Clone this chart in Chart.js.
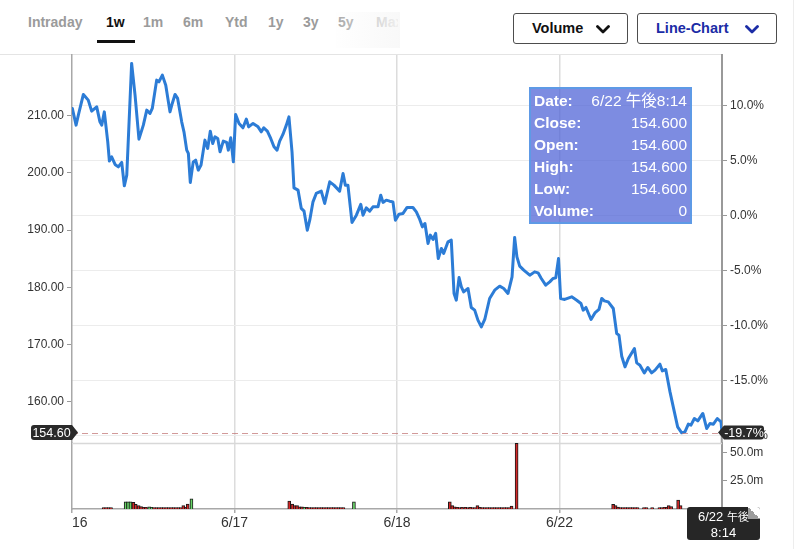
<!DOCTYPE html>
<html lang="ja"><head><meta charset="utf-8">
<script src="https://cdn.jsdelivr.net/npm/chart.js@4.4.1/dist/chart.umd.min.js"></script>
<style>
html,body{margin:0;padding:0;background:#fff;}
body{width:800px;height:549px;position:relative;overflow:hidden;font-family:"Liberation Sans",Arial,sans-serif;}
#tabs{position:absolute;left:0;top:0;width:398px;height:50px;overflow:hidden;}
.tab{position:absolute;top:13px;line-height:18px;font-size:14px;font-weight:700;color:#9b9b9b;white-space:nowrap;}
.tab.on{color:#111;}
#uline{position:absolute;left:97px;top:40px;width:38px;height:2.5px;background:#111;}
#fade{position:absolute;left:336px;top:12px;width:64px;height:36px;background:linear-gradient(to right,rgba(250,250,250,0.15),rgba(248,248,248,0.93));}
.btn{position:absolute;top:13px;height:31px;box-sizing:border-box;border:1px solid #4d4d4d;border-radius:3px;font-size:14.5px;font-weight:700;line-height:29px;padding-left:18px;white-space:nowrap;}
.chev{position:absolute;top:11px;}
#sep{position:absolute;left:0;top:54px;width:722px;height:1px;background:#e4e4e4;}
#edge{position:absolute;left:793px;top:0;width:1px;height:549px;background:#ededed;}
canvas{position:absolute;left:0;}
#c1{top:0;} #c2{top:423px;}
#tip{position:absolute;left:529px;top:87px;width:163px;height:137px;box-sizing:border-box;border:2px solid #5e9ae6;background:rgba(80,100,215,0.74);padding:1px 3px 0 3px;color:#fff;}
.row{display:flex;justify-content:space-between;height:22.1px;line-height:22px;white-space:nowrap;}
.row b{font-weight:700;font-size:15.5px;}
.row span{font-size:15.5px;font-family:"Liberation Sans","Noto Sans CJK JP",sans-serif;}
#tbox{position:absolute;left:687px;top:507px;width:73px;height:33px;background:#262626;border-radius:3px;color:#fff;font-size:13px;line-height:16px;text-align:center;padding-top:1px;box-sizing:border-box;white-space:nowrap;font-family:"Liberation Sans","Noto Sans CJK JP",sans-serif;}
#tbox .cjk{font-size:11px;font-family:"Noto Sans CJK JP",sans-serif;}
#fold{position:absolute;right:0;top:0;width:12px;height:12px;background:linear-gradient(to bottom left,#fff 50%,#9c9c9c 50%);border-top-right-radius:3px;}
</style></head>
<body>
<div id="tabs"></div>
<div id="uline"></div>
<div id="fade"></div>
<div class="btn" id="b1" style="left:513px;width:115px;color:#111;">Volume
  <svg class="chev" style="left:82px" width="14" height="9"><polyline points="1.5,1.5 7,7 12.5,1.5" fill="none" stroke="#111" stroke-width="2.8" stroke-linejoin="round" stroke-linecap="round"/></svg></div>
<div class="btn" id="b2" style="left:637px;width:140px;color:#1b2ca6;">Line-Chart
  <svg class="chev" style="left:107px" width="14" height="9"><polyline points="1.5,1.5 7,7 12.5,1.5" fill="none" stroke="#1b2ca6" stroke-width="2.8" stroke-linejoin="round" stroke-linecap="round"/></svg></div>
<div id="sep"></div>
<div id="edge"></div>
<canvas id="c1" width="800" height="460"></canvas>
<canvas id="c2" width="800" height="126"></canvas>
<div id="tip"></div>
<div id="tbox">6/22 <span class="cjk">午後</span><br>8:14<div id="fold"></div></div>
<script>
// ---------- DATA ----------
const tabNames = ["Intraday","1w","1m","6m","Ytd","1y","3y","5y","Max"];
const activeTab = "1w";
const dayLabels = ["16","6/17","6/18","6/22",""];
const dayTicks = [0,1,2,3,4];
const priceTicks = [160,170,180,190,200,210];
const pctTicks = [-20,-15,-10,-5,0,5,10];
const volTicks = [25,50];
const prevClose = 192.53;
const lastPrice = 154.60;

// time position (days from start of 6/16) and price
const priceX = [
0.002,0.025,0.039,0.07,0.10,0.121,0.152,0.172,0.183,0.199,0.22,0.23,0.244,0.265,0.285,0.306,0.322,0.337,0.367,0.388,0.412,0.439,0.46,0.48,0.494,0.521,0.535,0.556,0.577,0.603,0.617,0.634,0.65,0.675,0.689,0.706,0.716,0.728,0.746,0.761,0.777,0.794,0.818,0.835,0.851,0.866,0.88,0.897,0.911,0.931,0.952,0.962,0.977,0.993,1.007,1.028,
1.052,1.073,1.087,1.114,1.145,1.165,1.18,1.202,1.223,1.243,1.262,1.278,1.298,1.319,1.335,1.354,1.366,1.391,1.411,1.428,1.448,1.463,1.483,1.503,1.534,1.555,1.586,1.612,1.647,1.668,1.682,1.698,1.723,1.75,1.777,1.791,1.811,1.832,1.852,1.883,1.9,1.914,1.934,1.955,1.975,1.99,2.012,2.037,
2.062,2.098,2.119,2.14,2.156,2.172,2.191,2.205,2.222,2.238,2.254,2.273,2.287,2.314,2.334,2.351,2.365,2.382,2.396,2.41,2.437,2.457,2.478,2.498,2.519,2.54,2.57,2.601,2.632,2.657,2.683,2.708,2.724,2.738,2.755,2.78,2.817,2.847,2.868,2.888,2.915,2.94,2.96,2.977,2.994,3.007,3.032,
3.075,3.106,3.132,3.146,3.163,3.194,3.218,3.243,3.26,3.276,3.30,3.331,3.352,3.366,3.383,3.403,3.424,3.461,3.475,3.495,3.522,3.543,3.567,3.588,3.618,3.633,3.654,3.68,3.70,3.727,3.752,3.772,3.793,3.809,3.83,3.851,3.882,3.906,3.926,3.947,3.971,3.994,4.0];
const priceY = [
211.26,208.34,210.09,213.71,212.71,210.79,211.54,208.92,208.34,210.66,205.42,202.05,202.80,201.47,201.05,201.82,197.73,199.60,219.13,213.58,205.89,208.34,210.96,210.38,211.26,216.21,215.91,217.08,215.33,210.66,212.13,213.71,213.01,208.92,207.17,203.97,203.39,198.32,201.92,202.22,200.47,201.35,205.72,204.27,207.29,205.14,206.29,206.01,203.67,205.54,205.31,203.97,206.12,201.92,210.21,208.64,
207.87,209.39,208.04,208.64,208.04,207.17,207.87,207.29,206.01,204.55,203.97,205.54,206.71,208.34,209.79,203.67,197.38,196.98,193.78,193.30,189.98,191.73,194.93,196.40,196.80,194.65,198.43,197.85,196.80,199.90,197.85,197.85,191.33,192.60,194.48,192.60,193.88,193.30,194.06,194.06,196.10,194.83,195.23,195.05,194.93,191.73,192.78,192.90,
193.95,193.95,193.18,191.85,190.56,191.15,187.66,189.11,188.36,189.41,185.03,186.78,185.91,187.94,188.23,178.92,177.74,181.71,180.07,179.20,179.79,176.47,176.00,174.25,173.08,174.37,178.04,179.49,180.19,179.79,178.92,181.82,188.71,185.31,183.69,182.99,182.12,182.69,182.52,181.54,180.37,180.94,181.54,181.64,185.03,178.04,177.87,
178.32,177.74,177.17,176.00,176.47,174.37,175.52,176.12,178.04,177.62,177.45,176.29,171.92,171.63,167.95,166.08,167.55,169.30,166.78,166.38,165.03,165.98,165.03,165.51,166.56,165.38,165.63,161.71,159.09,155.59,154.55,154.72,156.07,155.89,157.06,156.64,157.94,155.31,156.19,156.07,157.06,156.47,154.60];

// volume bars: time (days), volume (millions), up(1)/down(0)
const volX = [
0.195,0.21,0.225,0.24,0.33,0.345,0.36,0.378,0.392,0.41,0.425,0.44,0.455,0.475,0.49,0.505,0.52,0.535,0.55,0.565,0.58,0.595,0.61,0.625,0.64,0.655,0.67,0.685,0.70,0.712,0.735,
1.337,1.355,1.37,1.385,1.40,1.415,1.43,1.445,1.46,1.475,1.49,1.505,1.52,1.535,1.55,1.565,1.58,1.595,1.61,1.625,1.64,1.655,1.67,1.735,
2.325,2.34,2.355,2.37,2.385,2.40,2.42,2.435,2.45,2.465,2.48,2.495,2.51,2.525,2.54,2.555,2.57,2.585,2.60,2.615,2.63,2.645,2.66,2.675,2.69,2.705,2.736,
3.33,3.345,3.36,3.375,3.39,3.405,3.42,3.435,3.45,3.465,3.48,3.52,3.535,3.57,3.615,3.63,3.645,3.66,3.672,3.687,3.73,3.745];
const volM = [
1.2,1.2,1.2,1.2,6.3,6.3,6.5,6.0,4.2,3.0,2.2,1.6,1.6,2.0,1.6,1.2,1.2,1.2,1.2,1.2,1.2,1.2,1.2,1.2,1.2,1.2,1.2,3.0,1.5,4.5,9.0,
7.0,4.5,3.0,3.0,2.0,2.0,1.6,1.6,1.3,1.2,1.2,1.2,1.2,1.2,1.2,1.2,1.2,1.2,1.2,1.2,1.2,1.2,1.2,6.5,
6.5,3.0,2.0,1.6,1.3,1.6,1.6,1.3,1.6,1.3,1.3,3.0,1.6,1.3,1.2,1.2,1.2,1.2,1.2,1.2,1.2,1.2,1.2,1.2,1.2,2.5,58.5,
4.2,3.0,1.8,1.3,1.3,1.3,1.2,1.2,1.2,1.2,1.2,1.2,1.2,1.2,1.2,1.2,1.5,1.5,3.0,2.2,8.0,3.0];
const volUp = [
0,0,0,0,1,1,1,0,0,0,0,0,0,1,1,0,0,0,0,0,0,0,0,0,0,0,0,0,0,0,1,
0,0,0,0,0,0,1,0,0,0,0,0,0,0,0,0,0,0,0,0,0,0,0,1,
0,0,0,0,0,0,0,0,0,0,0,0,0,0,0,0,0,0,0,0,0,0,0,0,0,0,0,
0,0,0,0,0,0,0,0,0,0,0,0,0,0,0,0,0,0,0,0,0,0];

const tipLabels = ["Date:","Close:","Open:","High:","Low:","Volume:"];
const tipValues = ["6/22 午後8:14","154.600","154.600","154.600","154.600","0"];

// ---------- LAYOUT ----------
const tabLeft = [28,106,143,183,225,268,303,338,376];
const tabsEl = document.getElementById('tabs');
tabNames.forEach((t,i)=>{
  const d = document.createElement('div');
  d.className = 'tab' + (t===activeTab ? ' on' : '');
  d.style.left = tabLeft[i] + 'px';
  d.textContent = t;
  tabsEl.appendChild(d);
});
const tipEl = document.getElementById('tip');
tipLabels.forEach((l,i)=>{
  const r = document.createElement('div'); r.className='row';
  const b = document.createElement('b'); b.textContent = l;
  const s = document.createElement('span'); s.textContent = tipValues[i];
  r.appendChild(b); r.appendChild(s); tipEl.appendChild(r);
});

Chart.defaults.font.family = "'Liberation Sans', Arial, sans-serif";
Chart.defaults.color = '#333';

const PMIN = 154.0, PMAX = 220.6;
const pct = v => (v/prevClose - 1)*100;
const GRID = '#dcdcdc', AX = '#a8a8a8';

function tag(ctx, x0, x1, tip, y, h, text, side){
  const r = 3, t = y - h/2, b = y + h/2;
  ctx.beginPath();
  if (side === 'left') { // pointer on right
    ctx.moveTo(x0 + r, t); ctx.lineTo(x1, t); ctx.lineTo(tip, y); ctx.lineTo(x1, b);
    ctx.lineTo(x0 + r, b); ctx.arcTo(x0, b, x0, b - r, r); ctx.lineTo(x0, t + r); ctx.arcTo(x0, t, x0 + r, t, r);
  } else { // pointer on left
    ctx.moveTo(x0, t); ctx.lineTo(x1 - r, t); ctx.arcTo(x1, t, x1, t + r, r); ctx.lineTo(x1, b - r);
    ctx.arcTo(x1, b, x1 - r, b, r); ctx.lineTo(x0, b); ctx.lineTo(tip, y);
  }
  ctx.closePath();
  ctx.fillStyle = '#2a2a2a'; ctx.fill();
  ctx.fillStyle = '#fff'; ctx.font = "12.5px 'Liberation Sans', Arial, sans-serif";
  ctx.textAlign = 'center'; ctx.textBaseline = 'middle';
  ctx.fillText(text, (x0 + x1)/2, y + 0.5);
}

const priceMarker = {
  id: 'priceMarker',
  afterDatasetsDraw(chart){
    const {ctx, chartArea:a, scales} = chart;
    const y = Math.round(scales.y.getPixelForValue(lastPrice)) + 0.5;
    ctx.save();
    ctx.strokeStyle = 'rgba(195,120,120,0.75)'; ctx.lineWidth = 1; ctx.setLineDash([6,4]);
    ctx.beginPath(); ctx.moveTo(a.left, y); ctx.lineTo(a.right, y); ctx.stroke();
    ctx.restore();
  },
  afterDraw(chart){
    const {ctx, chartArea:a, scales} = chart;
    const y = scales.y.getPixelForValue(lastPrice);
    ctx.save();
    tag(ctx, a.left - 41, a.left, a.left + 6, y, 15, lastPrice.toFixed(2), 'left');
    tag(ctx, a.right + 2, a.right + 42, a.right - 4, y, 14, pct(lastPrice).toFixed(1) + '%', 'right');
    ctx.restore();
  }
};

new Chart(document.getElementById('c1'), {
  type: 'line',
  data: { datasets: [{
    data: priceX.map((x,i)=>({x, y: priceY[i]})),
    borderColor: '#2c7cd6', borderWidth: 3, pointRadius: 0, tension: 0,
    borderJoinStyle: 'round', borderCapStyle: 'round', yAxisID: 'y'
  }]},
  options: {
    responsive: false, animation: false, events: [],
    layout: { padding: { top: 55, bottom: 17, left: 0, right: 0 } },
    plugins: { legend: { display: false }, tooltip: { enabled: false } },
    scales: {
      x: { type: 'linear', min: 0, max: 4,
        afterBuildTicks: s => { s.ticks = dayTicks.map(v => ({value: v})); },
        ticks: { display: false },
        grid: { color: c => (c.tick && (c.tick.value === 0 || c.tick.value === 4)) ? 'rgba(0,0,0,0)' : GRID,
                tickColor: c => (c.tick && c.tick.value === 0) ? AX : (c.tick && c.tick.value === 4 ? '#999' : GRID),
                lineWidth: 1.5, tickWidth: c => (c.tick && c.tick.value === 4) ? 2 : 1.5, tickLength: 7, drawTicks: true },
        border: { display: false },
        afterFit: s => { s.height = 7; } },
      y: { position: 'left', min: PMIN, max: PMAX,
        afterBuildTicks: s => { s.ticks = priceTicks.map(v => ({value: v})); },
        ticks: { callback: v => Number(v).toFixed(2), color: '#333', font: { size: 12 }, padding: 3 },
        grid: { drawOnChartArea: false, tickLength: 5, tickColor: '#999', color: '#999' },
        border: { color: AX, width: 1.5 },
        afterFit: s => { s.width = 72; } },
      pct: { position: 'right', min: pct(PMIN), max: pct(PMAX),
        afterBuildTicks: s => { s.ticks = pctTicks.map(v => ({value: v})); },
        ticks: { callback: v => Number(v).toFixed(1) + '%', color: '#333', font: { size: 12 }, padding: 3 },
        grid: { color: '#ececec', lineWidth: 1, tickLength: 5, tickColor: '#999' },
        border: { color: '#999', width: 2 },
        afterFit: s => { s.width = 78; } }
    }
  },
  plugins: [priceMarker]
});

const volTop = {
  id: 'volTop',
  beforeDatasetsDraw(chart){
    const {ctx, chartArea:a} = chart;
    ctx.save(); ctx.strokeStyle = '#d8d8d8'; ctx.lineWidth = 1.5;
    ctx.beginPath(); ctx.moveTo(a.left, a.top + 0.5); ctx.lineTo(a.right, a.top + 0.5); ctx.stroke();
    ctx.restore();
  }
};

const VMAX = 58.9;
new Chart(document.getElementById('c2'), {
  type: 'bar',
  data: { datasets: [{
    data: volX.map((x,i)=>({x, y: volM[i]})),
    backgroundColor: volUp.map(u => u ? '#66d466' : '#d42828'),
    borderColor: '#1a1a1a', borderWidth: 1, barThickness: 3, yAxisID: 'v'
  }]},
  options: {
    responsive: false, animation: false, events: [],
    layout: { padding: { top: 20, bottom: 0, left: 0, right: 0 } },
    plugins: { legend: { display: false }, tooltip: { enabled: false } },
    scales: {
      x: { type: 'linear', min: 0, max: 4, offset: false,
        afterBuildTicks: s => { s.ticks = dayTicks.map(v => ({value: v})); },
        ticks: { callback: v => dayLabels[Math.round(v)], align: 'inner', color: '#333', font: { size: 14 }, padding: 2, maxRotation: 0, autoSkip: false },
        grid: { offset: false, color: c => (c.tick && (c.tick.value === 0 || c.tick.value === 4)) ? 'rgba(0,0,0,0)' : GRID,
                tickColor: '#aaa', lineWidth: 1.5, tickLength: 4 },
        border: { color: AX, width: 1.5 },
        afterFit: s => { s.height = 40; } },
      yl: { position: 'left', min: 0, max: VMAX,
        ticks: { display: false }, grid: { display: false },
        border: { color: AX, width: 1.5 },
        afterFit: s => { s.width = 72; } },
      v: { position: 'right', min: 0, max: VMAX,
        afterBuildTicks: s => { s.ticks = volTicks.map(v => ({value: v})); },
        ticks: { callback: v => Number(v).toFixed(1) + 'm', color: '#333', font: { size: 12 }, padding: 3 },
        grid: { drawOnChartArea: false, tickLength: 5, tickColor: '#999', color: '#999' },
        border: { color: '#999', width: 2 },
        afterFit: s => { s.width = 78; } }
    }
  },
  plugins: [volTop]
});
</script>
</body></html>
